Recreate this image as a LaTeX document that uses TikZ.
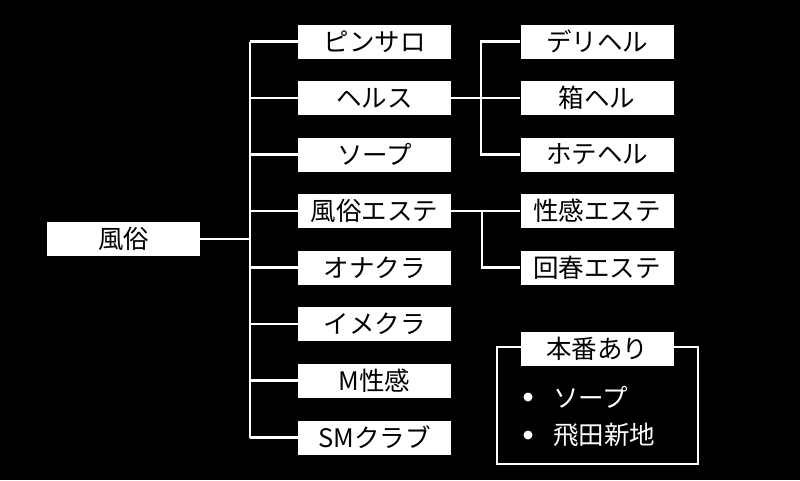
\documentclass[tikz,border=0pt]{standalone}
\usepackage{fontspec}
\setmainfont{Noto Sans CJK JP}
\begin{document}
\begin{tikzpicture}[x=1pt,y=-1pt,
  box/.style={fill=white,text=black,minimum width=153pt,minimum height=34pt,inner sep=0pt,font=\fontsize{25.5}{27}\selectfont},
  conn/.style={draw=white,line width=2.5pt},
  lbl/.style={text=white,inner sep=0pt,anchor=west,font=\fontsize{25.5}{27}\selectfont}]
\fill[black] (0,0) rectangle (800,480);
\useasboundingbox (0,0) rectangle (800,480);
% root
\node[box] (root) at (123.5,239) {風俗};
% middle column
\node[box] (m1) at (374.5,41.5) {ピンサロ};
\node[box] (m2) at (374.5,98) {ヘルス};
\node[box] (m3) at (374.5,154.5) {ソープ};
\node[box] (m4) at (374.5,211) {風俗エステ};
\node[box] (m5) at (374.5,267.5) {オナクラ};
\node[box] (m6) at (374.5,324) {イメクラ};
\node[box] (m7) at (374.5,380.5) {M性感};
\node[box] (m8) at (374.5,437.5) {SMクラブ};
% right column
\node[box] (r1) at (597,41.5) {デリヘル};
\node[box] (r2) at (597,98) {箱ヘル};
\node[box] (r3) at (597,154.5) {ホテヘル};
\node[box] (r4) at (597,211) {性感エステ};
\node[box] (r5) at (597,267.5) {回春エステ};
% trunk coordinates
\foreach \i/\y in {1/41.5,2/98,3/154.5,4/211,5/267.5,6/324,7/380.5,8/437.5}
  \coordinate (t\i) at (250,\y);
\coordinate (tr) at (250,239);
\draw[conn] (t1) -- (t8);
\draw[conn] (root.east) -- (tr);
\foreach \i in {1,...,8} \draw[conn] (t\i) -- (m\i.west);
% ヘルス branch
\coordinate (h1) at (481,41.5);
\coordinate (h3) at (481,154.5);
\draw[conn] (m2.east) -- (r2.west);
\draw[conn] (r1.west) -- (h1) -- (h3) -- (r3.west);
% 風俗エステ branch
\coordinate (e5) at (482,267.5);
\coordinate (e4) at (482,211);
\draw[conn] (m4.east) -- (r4.west);
\draw[conn] (e4) -- (e5) -- (r5.west);
% 本番あり frame
\coordinate (fa) at (497,347);
\coordinate (fb) at (698,464);
\draw[conn] (fa) rectangle (fb);
\node[box] (hb) at (597,349) {本番あり};
\fill[white] (528,397) circle (4.5pt);
\fill[white] (528,435) circle (4.5pt);
\node[lbl] (b1) at (553,397) {ソープ};
\node[lbl] (b2) at (553,435) {飛田新地};
\end{tikzpicture}
\end{document}
